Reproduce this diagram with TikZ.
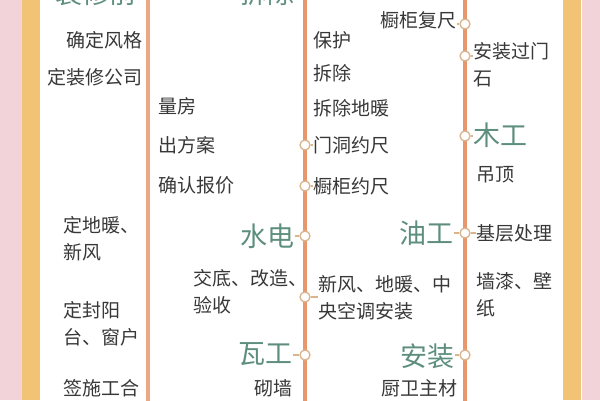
\documentclass[tikz,border=0pt]{standalone}
\usepackage{fontspec}
\newfontfamily\cjk{Noto Sans CJK SC}
\definecolor{pinkbg}{HTML}{F2D3DA}
\definecolor{yellowbar}{HTML}{F2C375}
\definecolor{railc}{HTML}{E8976C}
\definecolor{railL}{HTML}{EDA882}
\definecolor{dotc}{HTML}{D9B48C}
\definecolor{txt}{HTML}{383838}
\definecolor{headc}{HTML}{5E8F7E}
\tikzset{
  body/.style={font=\cjk\fontsize{19}{27}\selectfont, text=txt, inner sep=0pt, align=left},
  head/.style={font=\cjk\fontsize{27}{30}\selectfont, text=headc, inner sep=0pt},
  dot/.style={circle, draw=dotc, fill=white, line width=1.3pt, minimum size=10pt, inner sep=0pt},
  tick/.style={draw=dotc, line width=1.3pt},
  rail/.style={line width=4pt, draw=railc},
}
\begin{document}
\begin{tikzpicture}[x=1pt,y=-1pt]
\useasboundingbox (0,0) rectangle (600,400);
\clip (0,0) rectangle (600,400);
% background
\fill[white] (0,0) rectangle (600,400);
\fill[pinkbg] (0,0) rectangle (22,400);
\fill[yellowbar] (22,0) rectangle (40,400);
\fill[yellowbar] (563,0) rectangle (581,400);
\fill[pinkbg] (582,0) rectangle (600,400);
% rails
\draw[rail, draw=railL] (148,-5) -- (148,405);
\draw[rail] (305,-5) -- (305,405);
\draw[rail] (465,-5) -- (465,405);

% column 1
\node[head, anchor=east] (hA) at (137,-7) {装修前};
\node[body, anchor=east] (a1) at (143,40) {确定风格};
\node[body, anchor=east] (a2) at (143,77) {定装修公司};
\node[body, anchor=west] (a3) at (63,238.5) {定地暖、\\新风};
\node[body, anchor=west] (a4) at (63,324) {定封阳\\台、窗户};
\node[body, anchor=west] (a5) at (63,388) {签施工合};

% column 2
\node[body, anchor=west] (b1) at (158,106) {量房};
\node[body, anchor=west] (b2) at (158,145) {出方案};
\node[body, anchor=west] (b3) at (158,185) {确认报价};
\node[head, anchor=east] (hB) at (295,-7) {拆除};
\node[head, anchor=east] (hC) at (295,236) {水电};
\node[body, anchor=west] (b4) at (193,291.5) {交底、改造、\\验收};
\node[head, anchor=east] (hD) at (293,354) {瓦工};
\node[body, anchor=east] (b5) at (293,388) {砌墙};

% column 3
\node[body, anchor=west] (c1) at (313,40) {保护};
\node[body, anchor=west] (c2) at (313,73) {拆除};
\node[body, anchor=west] (c3) at (313,108) {拆除地暖};
\node[body, anchor=west] (c4) at (313,145) {门洞约尺};
\node[body, anchor=west] (c5) at (313,186) {橱柜约尺};
\node[body, anchor=west] (c6) at (318,298) {新风、地暖、中\\央空调安装};
\node[body, anchor=east] (c7) at (457,20) {橱柜复尺};
\node[head, anchor=east] (hE) at (454,233) {油工};
\node[head, anchor=east] (hF) at (455,356) {安装};
\node[body, anchor=east] (c8) at (458,388) {厨卫主材};

% column 4
\node[body, anchor=west] (d1) at (473,64.5) {安装过门\\石};
\node[head, anchor=west] (hG) at (473,135) {木工};
\node[body, anchor=west] (d2) at (476,175) {吊顶};
\node[body, anchor=west] (d3) at (476,233) {基层处理};
\node[body, anchor=west] (d4) at (476,294.5) {墙漆、壁\\纸};

% dots on middle rail
\node[dot] (m1) at (305,145) {};
\node[dot] (m2) at (305,186) {};
\node[dot] (m3) at (305,236) {};
\node[dot] (m4) at (305,297) {};
\node[dot] (m5) at (305,355) {};
% dots on right rail
\node[dot] (r1) at (465,24) {};
\node[dot] (r2) at (465,56) {};
\node[dot] (r3) at (465,136) {};
\node[dot] (r4) at (465,233) {};
\node[dot] (r5) at (465,355) {};

% ticks
\draw[tick] (m1.east) -- (m1.east -| c4.west);
\draw[tick] (m2.east) -- (m2.east -| c5.west);
\draw[tick] (m3.west) -- (m3.west -| hC.east);
\draw[tick] (m4.east) -- (m4.east -| c6.west);
\draw[tick] (m5.west) -- (m5.west -| hD.east);
\draw[tick] (r1.west) -- (r1.west -| c7.east);
\draw[tick] (r2.east) -- (r2.east -| d1.west);
\draw[tick] (r3.east) -- (r3.east -| hG.west);
\draw[tick] (r4.west) -- (r4.west -| hE.east);
\draw[tick] (r4.east) -- (r4.east -| d3.west);
\draw[tick] (r5.west) -- (r5.west -| hF.east);
\end{tikzpicture}
\end{document}
